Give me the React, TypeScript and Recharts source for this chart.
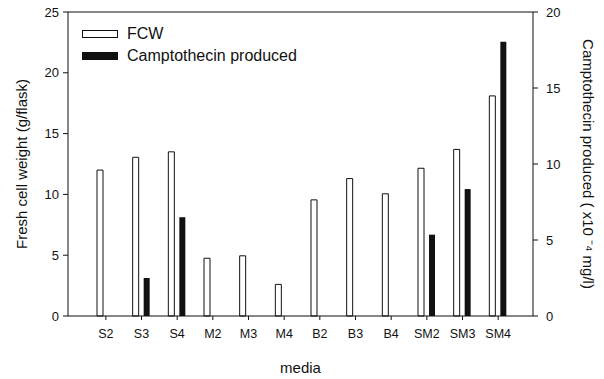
import { BarChart, Bar, XAxis, YAxis, Legend, ReferenceLine } from 'recharts';

const MEDIA = ['S2', 'S3', 'S4', 'M2', 'M3', 'M4', 'B2', 'B3', 'B4', 'SM2', 'SM3', 'SM4'];
// fresh cell weight, g/flask (left axis)
const FCW = [12.0, 13.05, 13.5, 4.75, 4.95, 2.6, 9.55, 11.3, 10.05, 12.15, 13.7, 18.1];
// camptothecin, x10^-4 mg/l (right axis); null = not produced
const CPT = [null, 2.5, 6.5, null, null, null, null, null, null, 5.35, 8.35, 18.05];
const LEFT_TICKS = [0, 5, 10, 15, 20, 25];
const RIGHT_TICKS = [0, 5, 10, 15, 20];
const SERIES_ORDER = ['fcw', 'cpt'];

const FONT = '"Liberation Sans", Arial, sans-serif';
const INK = '#111';

const data = MEDIA.map((m, i) => ({ media: m, fcw: FCW[i], cpt: CPT[i] }));

function LegendBox({ payload }: any) {
  const items = [...(payload ?? [])].sort(
    (a: any, b: any) => SERIES_ORDER.indexOf(a.dataKey) - SERIES_ORDER.indexOf(b.dataKey)
  );
  return (
    <div style={{ fontFamily: FONT, fontSize: 16, color: INK, lineHeight: '20px' }}>
      {items.map((p: any) => (
        <div key={p.value} style={{ display: 'flex', alignItems: 'center', height: 22 }}>
          <span
            style={{
              display: 'inline-block',
              width: 36,
              height: 8,
              boxSizing: 'border-box',
              border: `1px solid ${INK}`,
              background: p.dataKey === 'fcw' ? '#fff' : INK,
            }}
          />
          <span style={{ marginLeft: 9 }}>{p.value}</span>
        </div>
      ))}
    </div>
  );
}

export default function App() {
  return (
    <div style={{ position: 'absolute', left: 0, top: 0, width: 604, height: 379, background: '#fff' }}>
      <BarChart
        width={604}
        height={379}
        data={data}
        margin={{ top: 12, right: 26, left: 20, bottom: 33 }}
        barSize={6}
        barGap={5}
        style={{ fontFamily: FONT }}
      >
        <XAxis
          dataKey="media"
          interval={0}
          height={30}
          padding={{ left: 20, right: 17 }}
          tickSize={4}
          tickMargin={9}
          axisLine={{ stroke: INK }}
          tickLine={{ stroke: INK }}
          tick={{ fill: INK, fontSize: 12.5 }}
          label={{ value: 'media', position: 'center', dy: 37, fill: INK, fontSize: 15 }}
        />
        <YAxis
          yAxisId="left"
          domain={[0, 25]}
          ticks={LEFT_TICKS}
          width={48}
          tickSize={5}
          tickMargin={4}
          axisLine={{ stroke: INK }}
          tickLine={{ stroke: INK }}
          tick={{ fill: INK, fontSize: 13 }}
          label={{ value: 'Fresh cell weight (g/flask)', angle: -90, position: 'center', dx: -22, fill: INK, fontSize: 15 }}
        />
        <YAxis
          yAxisId="right"
          orientation="right"
          domain={[0, 20]}
          ticks={RIGHT_TICKS}
          width={45}
          tickSize={5}
          tickMargin={8}
          axisLine={{ stroke: INK }}
          tickLine={{ stroke: INK }}
          tick={{ fill: INK, fontSize: 13 }}
          label={{ value: 'Camptothecin produced ( x10 \u207B\u2074 mg/l)', angle: 90, position: 'center', dx: 33, fill: INK, fontSize: 15 }}
        />
        <ReferenceLine yAxisId="left" y={25} stroke={INK} />
        <Legend
          layout="vertical"
          align="center"
          verticalAlign="middle"
          content={<LegendBox />}
          wrapperStyle={{ left: 82, top: 23, width: 260, height: 50 }}
        />
        <Bar yAxisId="left" dataKey="fcw" name="FCW" fill="#fff" stroke={INK} strokeWidth={1} isAnimationActive={false} />
        <Bar yAxisId="right" dataKey="cpt" name="Camptothecin produced" fill={INK} isAnimationActive={false} />
      </BarChart>
    </div>
  );
}
